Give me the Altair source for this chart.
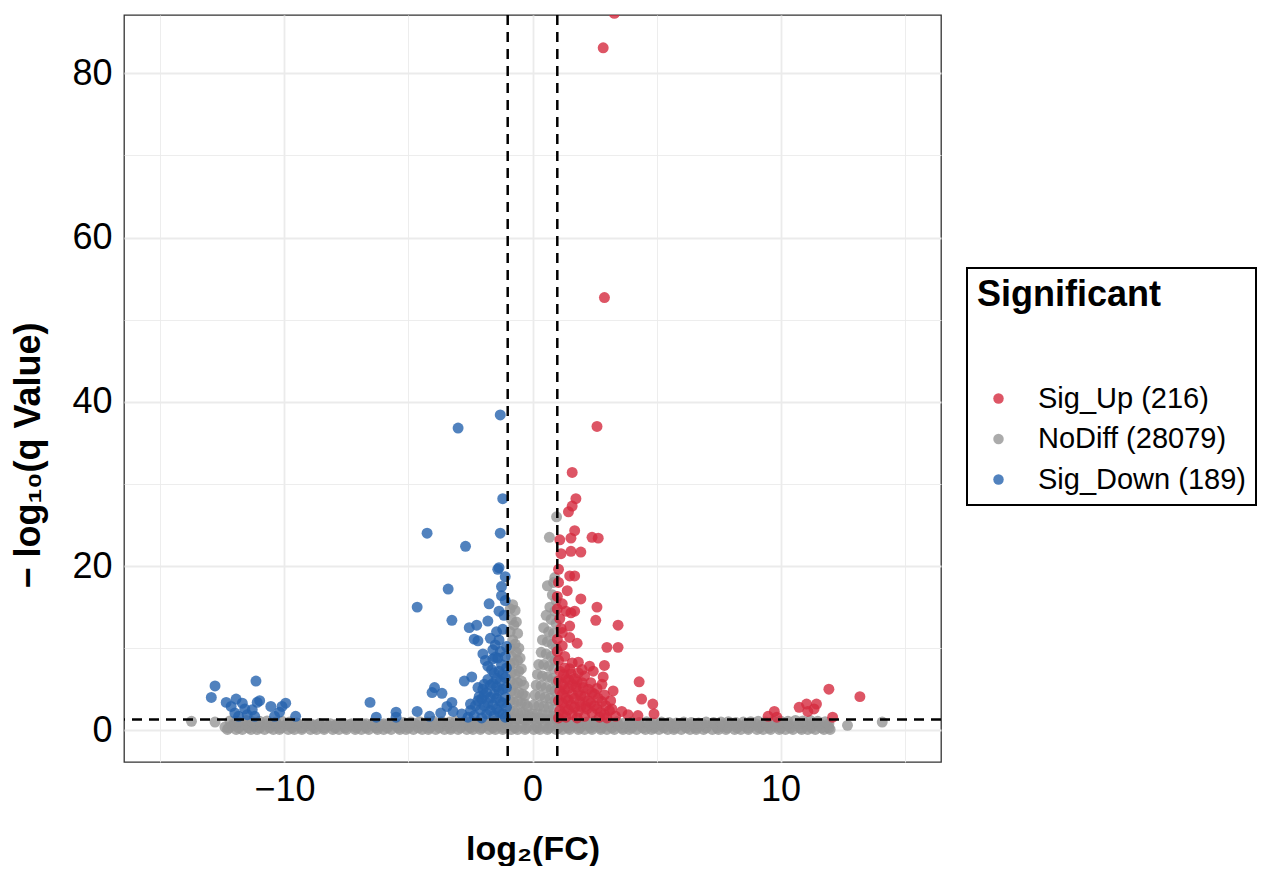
import altair as alt
import pandas as pd

# ---------------- data ----------------
LABEL_UP = "Sig_Up (216)"
LABEL_NO = "NoDiff (28079)"
LABEL_DOWN = "Sig_Down (189)"
LEGEND_ORDER = [LABEL_UP, LABEL_NO, LABEL_DOWN]
COLORS = ["#D42A3F", "#969696", "#2563AE"]

UP_X = [3.3, 2.85, 2.9, 2.6, 1.6, 1.75, 1.6, 1.45, 1.7, 1.55, 2.4, 2.65, 1.1, 1.55, 1.95,
        1.15, 1.05, 1.5, 1.7, 1.4, 1.95, 2.6, 1.0, 1.35, 1.7, 1.55, 2.55, 3.45, 1.1, 1.5,
        1.2, 1.5, 1.8, 3.0, 3.45, 1.0, 1.85, 2.3, 2.9, 2.45, 2.85, 4.3, 4.4, 4.85, 4.9,
        3.6, 3.85, 4.25, 3.2,
        1.05, 1.1, 1.05, 1.1, 1.05, 1.1, 1.05, 1.3, 1.3, 1.35, 1.3, 1.35, 1.3, 1.35,
        1.6, 1.55, 1.6, 1.6, 1.55, 1.6, 1.85, 1.8, 1.85, 1.9, 1.85, 1.8, 2.1, 2.05, 2.1,
        2.15, 2.1, 2.35, 2.4, 2.35, 2.4, 2.6, 2.65, 2.6, 2.7, 2.9, 2.95, 2.9, 3.1, 3.15,
        3.35, 1.2, 1.15, 1.0, 1.0, 1.2, 1.05,
        1.2, 1.45, 1.7, 1.95, 2.2, 2.5, 2.75, 3.0, 1.2, 1.45, 1.7, 1.95, 2.25, 2.5, 2.8,
        1.2, 1.45, 1.75, 2.0, 2.25, 1.2, 1.45, 1.7, 1.25, 1.5, 3.25, 2.0, 2.8,
        11.95, 13.2, 10.75, 11.05, 11.45, 11.35, 11.1, 9.75, 9.5, 12.1, 9.85]
UP_Y = [87.3, 83.1, 52.7, 37.0, 31.4, 28.2, 27.3, 26.6, 24.3, 23.4, 23.5, 23.4, 23.2, 21.8, 21.7,
        21.5, 19.6, 18.8, 18.8, 17.0, 16.0, 15.0, 16.3, 14.5, 14.5, 14.3, 13.4, 12.8, 13.6, 12.7,
        11.9, 11.3, 10.6, 10.1, 10.1, 9.6, 8.3, 7.8, 7.9, 7.2, 6.5, 5.9, 3.8, 3.2, 2.0,
        2.3, 1.9, 1.8, 2.6,
        8.5, 7.2, 6.0, 4.8, 3.6, 2.4, 1.5, 9.0, 7.6, 6.3, 5.0, 3.9, 2.7, 1.6,
        8.2, 6.9, 5.6, 4.4, 3.1, 1.9, 7.0, 5.9, 4.7, 3.5, 2.3, 1.5, 6.6, 5.2, 4.1,
        2.9, 1.7, 5.8, 4.6, 3.3, 2.1, 5.1, 3.9, 2.6, 1.6, 4.3, 3.0, 1.9, 2.4, 3.6,
        1.7, 10.3, 12.4, 11.1, 14.8, 15.4, 18.0,
        2.0, 2.5, 2.8, 2.9, 2.6, 3.0, 2.2, 1.5, 3.3, 3.7, 3.9, 4.2, 3.6, 4.4, 3.5,
        4.4, 5.1, 5.3, 5.8, 5.0, 5.6, 6.2, 6.3, 6.8, 7.5, 4.8, 7.4, 5.6,
        5.0, 4.1, 2.8, 3.2, 3.2, 2.6, 2.3, 2.3, 1.7, 1.6, 1.6]

DOWN_X = [-1.3, -3.0, -1.2, -4.25, -1.3, -2.7, -1.35, -1.4, -1.1, -3.4, -1.25, -4.65, -1.75,
          -1.35, -3.25, -2.55, -2.25, -1.8, -2.35, -2.2, -1.35, -2.0, -1.6, -1.8, -1.4, -2.75,
          -2.2, -2.0, -3.95, -4.05, -3.65, -3.25, -3.45, -3.2, -4.65, -4.15, -3.7, -6.55, -5.5,
          -5.5, -6.3, -2.5, -2.15,
          -1.05, -1.1, -1.05, -1.1, -1.05, -1.1, -1.05, -1.1, -1.3, -1.35, -1.3, -1.35, -1.3,
          -1.35, -1.55, -1.6, -1.55, -1.6, -1.55, -1.8, -1.85, -1.8, -1.85, -2.05, -2.1, -2.05,
          -2.3, -2.35, -2.6, -2.85, -1.2, -1.15, -1.45, -1.25, -1.1, -1.5, -1.7, -1.9, -2.45,
          -1.2, -1.45, -1.7, -1.95, -1.2, -1.45, -1.7, -1.95, -1.2, -1.45, -1.7, -1.2, -1.45,
          -1.65, -1.25, -1.5, -2.2, -2.5, -1.95, -1.6,
          -12.8, -11.15, -12.95, -12.35, -12.15, -11.95, -11.7, -11.1, -11.0, -10.55, -10.1,
          -9.95, -10.2, -11.85, -11.5, -11.2, -10.4, -9.55, -11.3, -11.6, -12.0]
DOWN_Y = [38.4, 36.8, 28.2, 24.0, 24.0, 22.4, 19.8, 19.6, 18.7, 17.2, 16.4, 15.0, 15.4,
          14.5, 13.4, 12.5, 12.8, 13.3, 11.1, 10.9, 11.0, 9.3, 8.7, 7.8, 8.8, 6.0,
          5.2, 5.0, 5.2, 4.6, 4.5, 3.4, 2.9, 2.3, 2.3, 1.7, 2.1, 3.4, 2.2,
          1.6, 1.6, 2.4, 4.1,
          10.2, 9.0, 7.6, 6.4, 5.2, 4.0, 2.8, 1.6, 9.6, 7.2, 6.0, 4.8, 3.5,
          2.2, 7.0, 5.7, 4.4, 3.1, 1.8, 6.2, 4.6, 3.3, 2.0, 3.8, 2.5, 1.5,
          3.0, 1.8, 1.6, 2.0, 12.3, 14.0, 12.0, 17.5, 15.8, 10.4, 11.2, 8.5, 6.5,
          2.0, 2.6, 2.4, 3.0, 3.3, 3.9, 4.0, 4.3, 5.0, 5.3, 5.5, 6.8, 6.3,
          7.4, 8.0, 8.9, 3.6, 3.2, 5.6, 9.8,
          5.4, 6.0, 4.0, 3.4, 2.9, 3.8, 3.3, 3.4, 3.6, 2.9, 2.9,
          3.3, 2.2, 1.7, 1.9, 1.7, 1.7, 1.7, 2.5, 2.6, 2.1]

# gray band near the baseline (rows of the dense cloud)
BAND_LOW_Y = 0.1
BAND_LOW_X = [-12.3, -11.95, -11.7, -11.35, -11.1, -10.8, -10.45, -10.2, -9.85, -9.6, -9.3,
              -8.95, -8.7, -8.4, -8.05, -7.8, -7.5, -7.15, -6.9, -6.6, -6.25, -6.0, -5.7,
              -5.35, -5.1, -4.8, -4.45, -4.2, -3.9, -3.55, -3.3, -3.0, -2.65, -2.4, -2.1,
              -1.75, -1.5, -1.2, -0.85, -0.6, -0.3, 0.05, 0.3, 0.6, 0.95, 1.2, 1.5, 1.85,
              2.1, 2.4, 2.75, 3.0, 3.3, 3.65, 3.9, 4.2, 4.55, 4.8, 5.1, 5.45, 5.7, 6.0,
              6.35, 6.6, 6.9, 7.25, 7.5, 7.8, 8.15, 8.4, 8.7, 9.05, 9.3, 9.6, 9.95, 10.2,
              10.5, 10.85, 11.1, 11.4, 11.75, 12.0]
BAND_Q1_Y = 0.3
BAND_Q1_X = [-12.25, -11.85, -11.45, -11.0, -10.6, -10.15, -9.7, -9.3, -8.8, -8.4, -7.95,
             -7.55, -7.1, -6.7, -6.3, -5.85, -5.4, -5.0, -4.6, -4.15, -3.75, -3.3, -2.9,
             -2.5, -2.05, -1.6, -1.15, -0.7, -0.25, 0.2, 0.65, 1.05, 1.45, 1.9, 2.35, 2.75,
             3.2, 3.6, 4.0, 4.45, 4.9, 5.3, 5.75, 6.2, 6.6, 7.0, 7.45, 7.85, 8.25, 8.7,
             9.15, 9.55, 10.0, 10.4, 10.8, 11.25, 11.65, 11.95]
BAND_MID_Y = 0.55
BAND_MID_X = [-12.1, -11.8, -11.5, -11.25, -10.95, -10.6, -10.35, -10.0, -9.75, -9.45, -9.1,
              -8.85, -8.55, -8.2, -7.95, -7.65, -7.3, -7.05, -6.75, -6.4, -6.15, -5.85, -5.5,
              -5.25, -4.95, -4.6, -4.35, -4.05, -3.7, -3.45, -3.15, -2.8, -2.55, -2.25, -1.9,
              -1.65, -1.35, -1.0, -0.75, -0.45, -0.15, 0.15, 0.45, 0.75, 1.1, 1.35, 1.65, 2.0,
              2.25, 2.55, 2.9, 3.15, 3.45, 3.8, 4.05, 4.35, 4.7, 4.95, 5.25, 5.6, 5.85, 6.15,
              6.5, 6.75, 7.05, 7.4, 7.65, 7.95, 8.3, 8.55, 8.85, 9.2, 9.45, 9.75, 10.1, 10.35,
              10.65, 11.0, 11.25, 11.55, 11.9]
BAND_Q3_Y = 0.8
BAND_Q3_X = [-12.05, -11.6, -11.2, -10.75, -10.3, -9.9, -9.45, -9.0, -8.6, -8.15, -7.7,
             -7.3, -6.85, -6.45, -6.0, -5.6, -5.15, -4.75, -4.3, -3.9, -3.45, -3.05, -2.6,
             -2.2, -1.8, -1.4, -1.05, 1.05, 1.4, 1.8, 2.2, 2.6, 3.05, 3.45, 3.9, 4.3, 4.75,
             5.15, 5.6, 6.0, 6.45, 6.85, 7.3, 7.7, 8.15, 8.6, 9.0, 9.45, 9.9, 10.3, 10.75,
             11.2, 11.6, 11.95]
BAND_HIGH_X = [-12.2, -11.9, -11.55, -11.3, -11.0, -10.7, -10.35, -10.1, -9.8, -9.5, -9.15,
               -8.9, -8.6, -8.3, -7.9, -7.6, -7.35, -7.0, -6.7, -6.45, -6.1, -5.8, -5.55,
               -5.2, -4.9, -4.55, -4.25, -4.0, -3.65, -3.35, -3.1, -2.75, -2.45, -2.2, -1.85,
               -1.55, -1.3, -1.0, 1.0, 1.3, 1.6, 1.9, 2.2, 2.5, 2.8, 3.1, 3.4, 3.7, 4.0,
               4.3, 4.6, 4.9, 5.2, 5.5, 5.8, 6.1, 6.4, 6.7, 7.0, 7.3, 7.6, 7.9, 8.2, 8.5,
               8.8, 9.1, 9.4, 9.7, 10.0, 10.3, 10.6, 10.9, 11.2, 11.5, 11.8]
BAND_HIGH_Y = [1.15, 1.1, 1.2, 1.05, 1.1, 1.15, 1.0, 1.1, 1.0, 0.9, 0.8,
               0.75, 0.8, 0.7, 0.75, 0.8, 0.7, 0.75, 0.8, 0.75, 0.7, 0.85, 0.9,
               0.95, 1.0, 1.05, 1.0, 1.1, 1.05, 1.0, 1.1, 1.05, 1.1, 1.0, 1.15,
               1.1, 1.2, 1.2, 1.2, 1.1, 1.0, 1.05, 1.0, 1.1, 0.95, 1.0, 1.05, 0.9, 1.0,
               0.95, 1.05, 0.9, 1.0, 0.95, 0.9, 1.0, 0.95, 0.9, 1.0, 0.95, 1.0, 1.05, 0.95, 1.0,
               1.05, 1.1, 1.0, 1.1, 1.15, 1.1, 1.2, 1.15, 1.2, 1.1, 1.05]

# the two gray spikes around log2FC = 0 and isolated gray points
SPIKE_X = [-0.9, -0.8, -0.7, -0.85, -0.75, -0.65, -0.9, -0.8, -0.7, -0.6, -0.9, -0.85, -0.65,
           -0.55, -0.9, -0.75, -0.6, -0.5, -0.85, -0.7, -0.55, -0.45, -0.9, -0.75, -0.6,
           -0.45, -0.35, -0.85, -0.7, -0.55, -0.4, -0.3, -0.9, -0.75, -0.6, -0.45, -0.3,
           -0.2, -0.9, -0.75, -0.6, -0.45, -0.3, -0.15, -0.05, -0.95, -0.8, -0.65, -0.5,
           -0.35, -0.2,
           0.97, 0.68, 0.9, 0.85, 0.6, 0.8, 0.95, 0.7, 0.9, 0.55, 0.75, 0.95, 0.45, 0.65,
           0.85, 0.4, 0.6, 0.8, 0.95, 0.35, 0.55, 0.75, 0.9, 0.25, 0.45, 0.65, 0.85, 0.2,
           0.4, 0.6, 0.8, 0.95, 0.15, 0.35, 0.55, 0.75, 0.9, 0.1, 0.3, 0.5, 0.7, 0.9, 0.05,
           0.25, 0.45, 0.65, 0.85, 0.0, 0.2, 0.4, 0.6, 0.8, 0.95, 0.1, 0.3, 0.5, 0.7,
           -13.75, -12.8, -12.4, 12.7, 14.1]
SPIKE_Y = [14.8, 15.3, 14.6, 13.5, 12.8, 13.2, 12.0, 11.0, 10.5, 11.8, 10.0, 9.0, 9.5,
           10.0, 8.0, 8.2, 8.5, 8.8, 7.0, 6.8, 7.2, 7.5, 6.0, 5.6, 5.8,
           6.0, 5.5, 4.8, 4.5, 4.6, 4.4, 4.2, 3.6, 3.4, 3.5, 3.3, 3.2,
           2.9, 2.4, 2.3, 2.2, 2.1, 2.0, 1.9, 1.6, 1.5, 1.5, 1.4, 1.4,
           1.3, 1.3,
           26.0, 23.5, 18.6, 18.0, 17.6, 16.5, 15.8, 15.0, 14.5, 14.0, 13.5, 13.0, 12.5, 12.0,
           11.8, 11.0, 10.8, 10.5, 10.0, 9.5, 9.3, 9.0, 8.5, 8.0, 8.0, 7.8, 7.5, 6.8,
           6.6, 6.5, 6.3, 6.0, 5.5, 5.4, 5.2, 5.0, 4.8, 4.3, 4.2, 4.0, 3.9, 3.6, 3.1,
           3.0, 2.9, 2.8, 2.6, 2.0, 2.0, 1.9, 1.8, 1.7, 1.5, 1.4, 1.4, 1.3, 1.3,
           1.1, 1.0, 0.4, 0.6, 1.0]

X_TICKS = [-15, -10, -5, 0, 5, 10, 15]
Y_TICKS = [0, 10, 20, 30, 40, 50, 60, 70, 80]
FC_CUTS = [-1, 1]
Q_CUT = 1.3

# ---------------- build the table ----------------
rows = []
for xs, yv in [(BAND_LOW_X, BAND_LOW_Y), (BAND_Q1_X, BAND_Q1_Y),
               (BAND_MID_X, BAND_MID_Y), (BAND_Q3_X, BAND_Q3_Y)]:
    for x in xs:
        rows.append((x, yv, LABEL_NO, 0))
for x, y in zip(BAND_HIGH_X, BAND_HIGH_Y):
    rows.append((x, y, LABEL_NO, 0))
for x, y in zip(SPIKE_X, SPIKE_Y):
    rows.append((x, y, LABEL_NO, 0))
for x, y in zip(UP_X, UP_Y):
    rows.append((x, y, LABEL_UP, 1))
for x, y in zip(DOWN_X, DOWN_Y):
    rows.append((x, y, LABEL_DOWN, 2))
df = pd.DataFrame(rows, columns=["log2FC", "logq", "Significant", "ord"])

FONT = "Liberation Sans, Arial, DejaVu Sans, sans-serif"
XDOM = [-16.47, 16.47]
YDOM = [-3.86, 87.1]

x_enc = alt.X("log2FC:Q", scale=alt.Scale(domain=XDOM, nice=False, zero=False),
              axis=alt.Axis(values=X_TICKS, title="log₂(FC)",
                            labelExpr="datum.value % 10 === 0 ? datum.label : ''",
                            gridWidth={"condition": {"test": "datum.value % 10 === 0", "value": 1.8}, "value": 0.9}))
y_enc = alt.Y("logq:Q", scale=alt.Scale(domain=YDOM, nice=False, zero=False),
              axis=alt.Axis(values=Y_TICKS, title="− log₁₀(q Value)", titleY=440,
                            labelExpr="datum.value % 20 === 0 ? datum.label : ''",
                            gridWidth={"condition": {"test": "datum.value % 20 === 0", "value": 1.8}, "value": 0.9}))

points = alt.Chart(df).mark_circle(size=120, opacity=0.8, clip=True).encode(
    x=x_enc,
    y=y_enc,
    color=alt.Color("Significant:N",
                    scale=alt.Scale(domain=LEGEND_ORDER, range=COLORS),
                    legend=alt.Legend(
                        title="Significant", orient="none", legendX=843, legendY=253,
                        titleFont=FONT, titleFontSize=36, titleFontWeight="bold",
                        titleColor="black", titlePadding=70, titleLimit=400,
                        labelFont=FONT, labelFontSize=29, labelColor="black", labelLimit=400,
                        padding=10, strokeColor="black",
                        symbolType="circle", symbolSize=110, symbolOpacity=0.8,
                        symbolStrokeWidth=0, symbolOffset=7, labelOffset=25,
                        rowPadding=10.5)),
    order=alt.Order("ord:Q"),
)

vlines = alt.Chart(pd.DataFrame({"log2FC": FC_CUTS})).mark_rule(
    color="black", strokeWidth=2.5, strokeDash=[10, 7]).encode(x="log2FC:Q")
hline = alt.Chart(pd.DataFrame({"logq": [Q_CUT]})).mark_rule(
    color="black", strokeWidth=2.5, strokeDash=[10, 7]).encode(y="logq:Q")

chart = alt.layer(points, vlines, hline).properties(
    width=817, height=747,
    padding={"left": 116, "top": 7, "right": 318, "bottom": 104},
    autosize=alt.AutoSizeParams(type="none"),
).configure_view(
    stroke="#333333", strokeWidth=1.3
).configure_axis(
    labelFont=FONT, labelFontSize=36, labelColor="black",
    titleFont=FONT, titleFontSize=34, titleFontWeight="bold", titleColor="black",
    ticks=False, domain=False, gridColor="#EBEBEB",
).configure_axisX(
    labelPadding=10, titlePadding=25,
).configure_axisY(
    labelPadding=12, titlePadding=24, titleFontSize=36,
).configure_legend(
    strokeWidth=2
)

chart.save("out.html", embed_options={"renderer": "svg", "actions": False})
